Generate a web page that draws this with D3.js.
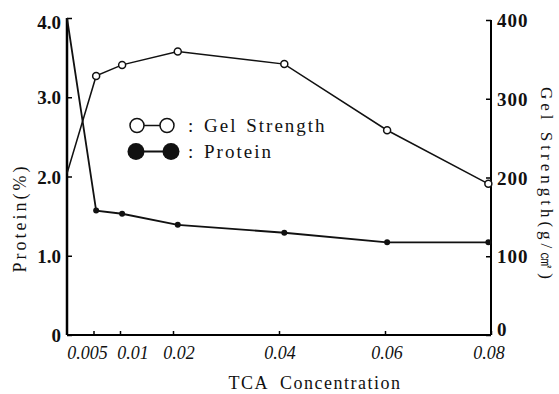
<!DOCTYPE html>
<html>
<head>
<meta charset="utf-8">
<script src="https://cdn.jsdelivr.net/npm/d3@7"></script>
<style>
  body { margin: 0; background: #fff; }
  text { font-family: "Liberation Serif", "DejaVu Serif", serif; fill: #111; }
</style>
</head>
<body>
<svg id="chart"></svg>
<script>
// values
const tca = [0, 0.0055, 0.0104, 0.0209, 0.041, 0.0604, 0.0795];
const gelStrength = [205, 329, 343, 360, 344, 260, 192];
const protein = [4.0, 1.57, 1.53, 1.39, 1.29, 1.17, 1.17];
const xTicks = [0.005, 0.01, 0.02, 0.04, 0.06, 0.08];
const xTickLabels = ["0.005", "0.01", "0.02", "0.04", "0.06", "0.08"];
const xLabelShift = [-6, 13, 6, 1, 2, -2];
const leftTicks = [0, 1, 2, 3, 4];
const leftTickLabels = ["0", "1.0", "2.0", "3.0", "4.0"];
const rightTicks = [0, 100, 200, 300, 400];

width = 559;
height = 394;
const pLeft = 67, pRight = 491, pTop = 18, pBottom = 335;

var svg = d3.select("#chart").attr("width", width).attr("height", height);

const x = d3.scaleLinear().domain([0, 0.08]).range([pLeft, pRight]);
const yP = d3.scaleLinear().domain([0, 4]).range([pBottom, pTop]);
const yG = d3.scaleLinear().domain([0, 400]).range([pBottom, pTop + 2]);

// axes
svg.append("g").attr("transform", `translate(${pLeft},0)`)
  .call(d3.axisRight(yP).tickValues(leftTicks).tickSize(5).tickFormat(""))
  .call(g => g.select(".domain").attr("stroke-width", 2.5).attr("d", `M0,${pTop}V${pBottom}`));
svg.append("g").attr("transform", `translate(${pRight},0)`)
  .call(d3.axisLeft(yG).tickValues(rightTicks).tickSize(5).tickFormat(""))
  .call(g => g.select(".domain").attr("stroke-width", 2).attr("d", `M0,${yG(400)}V${pBottom}`));
svg.append("g").attr("transform", `translate(0,${pBottom})`)
  .call(d3.axisTop(x).tickValues(xTicks).tickSize(4).tickFormat(""))
  .call(g => g.select(".domain").attr("stroke-width", 2).attr("d", `M${pLeft},0H${pRight}`));

svg.selectAll(".tick line").attr("stroke-width", 1.5);

// tick labels
svg.append("g").selectAll("text").data(leftTicks).join("text")
  .attr("x", pLeft - 6).attr("y", d => yP(d) + (d == 4 ? 11 : 7))
  .attr("text-anchor", "end").attr("font-size", 19).attr("font-weight", "bold")
  .text((d, i) => leftTickLabels[i]);
svg.append("g").selectAll("text").data(rightTicks).join("text")
  .attr("x", pRight + 6).attr("y", d => yG(d) + (d == 0 ? 1 : 7))
  .attr("font-size", 19).attr("letter-spacing", 1).attr("font-weight", "bold")
  .text(d => d);
svg.append("g").selectAll("text").data(xTicks).join("text")
  .attr("x", (d, i) => x(d) + xLabelShift[i]).attr("y", pBottom + 24)
  .attr("text-anchor", "middle").attr("font-size", 18).attr("font-style", "italic")
  .text((d, i) => xTickLabels[i]);

// axis titles
svg.append("text").attr("transform", "translate(26,218) rotate(-90)")
  .attr("text-anchor", "middle").attr("font-size", 18).attr("letter-spacing", 3)
  .text("Protein(%)");
svg.append("text").attr("transform", "translate(541,185) rotate(90)")
  .attr("text-anchor", "middle").attr("font-size", 17).attr("letter-spacing", 4)
  .text("Gel Strength(g/㎠)");
svg.append("text").attr("x", 315).attr("y", 389)
  .attr("text-anchor", "middle").attr("font-size", 18).attr("letter-spacing", 1.5)
  .attr("word-spacing", 6).text("TCA Concentration");

// lines
const gelData = tca.map((t, i) => [t, gelStrength[i]]);
const proData = tca.map((t, i) => [t, protein[i]]);

svg.append("path").datum(gelData)
  .attr("fill", "none").attr("stroke", "#111").attr("stroke-width", 1.5)
  .attr("d", d3.line().x(d => x(d[0])).y(d => yG(d[1])));
svg.append("path").datum(proData)
  .attr("fill", "none").attr("stroke", "#111").attr("stroke-width", 1.8)
  .attr("d", d3.line().x(d => x(d[0])).y(d => yP(d[1])));

svg.append("g").selectAll("circle").data(gelData.slice(1)).join("circle")
  .attr("cx", d => x(d[0])).attr("cy", d => yG(d[1])).attr("r", 3.5)
  .attr("fill", "#fff").attr("stroke", "#111").attr("stroke-width", 1.5);
svg.append("g").selectAll("circle").data(proData.slice(1)).join("circle")
  .attr("cx", d => x(d[0])).attr("cy", d => yP(d[1])).attr("r", 3)
  .attr("fill", "#111");

// legend
const legend = svg.append("g");
legend.append("line").attr("x1", 137).attr("x2", 167).attr("y1", 125.5).attr("y2", 125.5)
  .attr("stroke", "#111").attr("stroke-width", 1.5);
legend.selectAll(".o").data([137, 167]).join("circle")
  .attr("cx", d => d).attr("cy", 125.5).attr("r", 7)
  .attr("fill", "#fff").attr("stroke", "#111").attr("stroke-width", 1.5);
legend.append("line").attr("x1", 136).attr("x2", 171).attr("y1", 151.5).attr("y2", 151.5)
  .attr("stroke", "#111").attr("stroke-width", 2);
legend.selectAll(".f").data([136, 171]).join("circle")
  .attr("cx", d => d).attr("cy", 151.5).attr("r", 8.5).attr("fill", "#111");
legend.append("text").attr("x", 188).attr("y", 132).attr("font-size", 19)
  .attr("letter-spacing", 2).attr("word-spacing", 2).text(": Gel Strength");
legend.append("text").attr("x", 188).attr("y", 158).attr("font-size", 19)
  .attr("letter-spacing", 2).attr("word-spacing", 2).text(": Protein");
</script>
</body>
</html>
